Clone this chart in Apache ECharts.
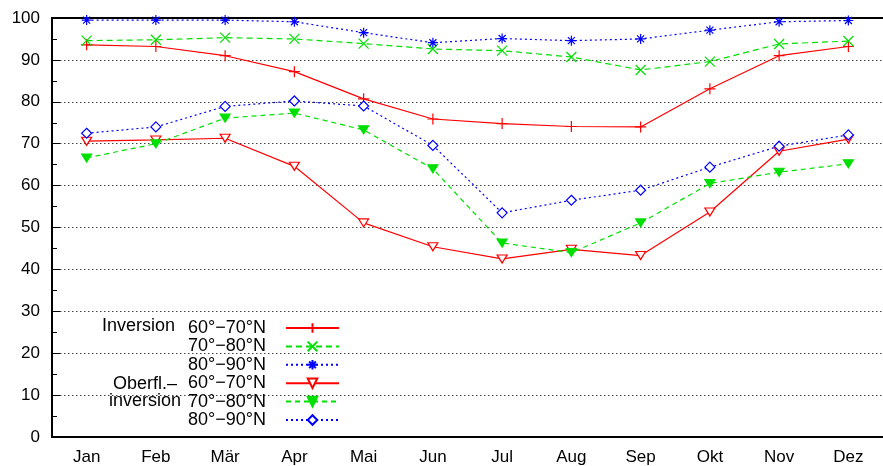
<!DOCTYPE html>
<html>
<head>
<meta charset="utf-8">
<script src="https://cdn.jsdelivr.net/npm/echarts@6/dist/echarts.min.js"></script>
<style>html,body{margin:0;padding:0;background:#fff}#c{width:883px;height:466px}</style>
</head>
<body>
<div id="c"></div>
<script>
const months = ['Jan','Feb','Mär','Apr','Mai','Jun','Jul','Aug','Sep','Okt','Nov','Dez'];
const inv6070 = [93.6, 93.2, 91.0, 87.2, 80.7, 75.9, 74.8, 74.1, 74.0, 83.1, 91.0, 93.2];
const inv7080 = [94.6, 94.8, 95.3, 95.0, 93.9, 92.6, 92.2, 90.7, 87.6, 89.6, 93.8, 94.5];
const inv8090 = [99.5, 99.5, 99.5, 99.1, 96.5, 94.1, 95.1, 94.6, 95.0, 97.1, 99.1, 99.4];
const sfc6070 = [70.6, 70.9, 71.3, 64.6, 51.1, 45.4, 42.5, 44.8, 43.3, 53.7, 68.2, 71.1];
const sfc7080 = [66.6, 70.0, 76.1, 77.3, 73.3, 64.0, 46.3, 44.0, 51.1, 60.5, 63.2, 65.2];
const sfc8090 = [72.5, 74.0, 78.9, 80.2, 79.0, 69.6, 53.5, 56.5, 58.9, 64.4, 69.4, 72.1];
const yTicks = [0, 10, 20, 30, 40, 50, 60, 70, 80, 90, 100];
const legendLabels = ['60°−70°N', '70°−80°N', '80°−90°N', '60°−70°N', '70°−80°N', '80°−90°N'];
const legendPrefixes = ['Inversion', 'Oberfl.–', 'inversion'];

const FONT = 'Liberation Sans';
const RED = '#ff0000', GREEN = '#00e000', BLUE = '#0000ff';
const plus = 'path://M0,5L10,5M5,0L5,10';
const cross = 'path://M0,0L10,10M10,0L0,10';
const star = 'path://M0,5L10,5M5,0L5,10M1.5,1.5L8.5,8.5M8.5,1.5L1.5,8.5';
const triDown = 'path://M0,0L10,0L5,8.66Z';
const diamond = 'path://M5,0L10,5L5,10L0,5Z';

function mk(name, data, color, dash, symbol, size, fill) {
  return {
    name: name, type: 'line', data: data, symbol: symbol, symbolSize: size,
    lineStyle: {color: color, width: 1.2, type: dash},
    itemStyle: {color: fill, borderColor: color, borderWidth: 1.2},
    emphasis: {disabled: true}, animation: false, z: 3
  };
}
const names = ['s1','s2','s3','s4','s5','s6'];
const series = [
  mk('s1', inv6070, RED, 'solid', plus, 11, RED),
  mk('s2', inv7080, GREEN, [6,4], cross, 10, GREEN),
  mk('s3', inv8090, BLUE, [2,3], star, 10, BLUE),
  mk('s4', sfc6070, RED, 'solid', triDown, [10,8], '#fff'),
  mk('s5', sfc7080, GREEN, [5,4], triDown, [10,8], GREEN),
  mk('s6', sfc8090, BLUE, [2,3], diamond, 10, '#fff')
];

const chart = echarts.init(document.getElementById('c'), null, {renderer: 'canvas'});
chart.setOption({
  animation: false,
  backgroundColor: '#fff',
  grid: {left: 52, top: 18, width: 840, height: 420, containLabel: false},
  xAxis: [{
    type: 'category', data: months, boundaryGap: true, position: 'bottom',
    axisLine: {lineStyle: {color: '#000', width: 2}},
    axisTick: {inside: true, alignWithLabel: true, length: 8, lineStyle: {color: '#000'}},
    axisLabel: {color: '#000', fontFamily: FONT, fontSize: 17, margin: 12},
    splitLine: {show: false}
  }, {
    type: 'category', data: months, boundaryGap: true, position: 'top',
    axisLine: {lineStyle: {color: '#000', width: 2}},
    axisTick: {inside: true, alignWithLabel: true, length: 8, lineStyle: {color: '#000'}},
    axisLabel: {show: false}, splitLine: {show: false}
  }],
  yAxis: {
    type: 'value', min: yTicks[0], max: yTicks[yTicks.length-1], interval: 10,
    axisLine: {show: true, lineStyle: {color: '#000', width: 2}},
    axisTick: {show: true, inside: true, length: 8, lineStyle: {color: '#000'}},
    minorTick: {show: true, splitNumber: 2, length: 5, lineStyle: {color: '#000'}},
    axisLabel: {color: '#000', fontFamily: FONT, fontSize: 17, margin: 12},
    splitLine: {show: true, lineStyle: {color: '#444', width: 1, type: [1.5, 2.5]}}
  },
  legend: {
    show: true, orient: 'vertical', align: 'right', right: 543, top: 319,
    padding: 0, itemWidth: 53, itemHeight: 12, itemGap: 0.4,
    selectedMode: false, data: names,
    formatter: function(n){ return legendLabels[names.indexOf(n)]; },
    textStyle: {color: '#000', fontFamily: FONT, fontSize: 18, padding: [0, 15, 0, 0]}
  },
  graphic: [
    {type: 'text', left: 102, top: 317, style: {text: legendPrefixes[0], font: '18px "Liberation Sans"', fill: '#000'}},
    {type: 'text', right: 883-177, top: 375, style: {text: legendPrefixes[1], font: '18px "Liberation Sans"', fill: '#000'}},
    {type: 'text', right: 883-181, top: 392, style: {text: legendPrefixes[2], font: '18px "Liberation Sans"', fill: '#000'}}
  ],
  series: series
});
</script>
</body>
</html>
